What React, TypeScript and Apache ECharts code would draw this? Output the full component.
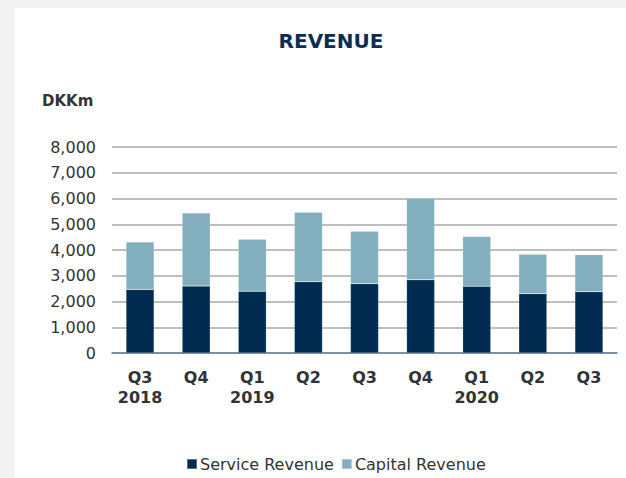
import React, { useEffect, useRef } from "react";
import * as echarts from "echarts";

const categories = ["Q3\n2018", "Q4", "Q1\n2019", "Q2", "Q3", "Q4", "Q1\n2020", "Q2", "Q3"];
const serviceRevenue = [2470, 2600, 2400, 2770, 2690, 2845, 2590, 2305, 2380];
const capitalRevenue = [1840, 2840, 2015, 2695, 2035, 3165, 1930, 1530, 1440];
const yTicks = { min: 0, max: 8000, interval: 1000 };

const FONT = "'DejaVu Sans', 'Open Sans', sans-serif";

export default function App() {
  const ref = useRef<HTMLDivElement>(null);
  useEffect(() => {
    if (!ref.current) return;
    const chart = echarts.init(ref.current, undefined, { renderer: "svg" });
    chart.setOption({
      animation: false,
      backgroundColor: "#ffffff",
      textStyle: { fontFamily: FONT },
      title: {
        text: "REVENUE",
        left: 311,
        top: 18,
        textAlign: "center",
        textStyle: { color: "#0c2d52", fontSize: 20, fontWeight: "bold", fontFamily: FONT },
      },
      graphic: [
        {
          type: "text",
          left: 27,
          top: 85,
          style: { text: "DKKm", fill: "#333333", font: `bold 15px ${FONT}` },
        },
      ],
      legend: {
        data: ["Service Revenue", "Capital Revenue"],
        left: 166,
        top: 443,
        icon: "rect",
        itemWidth: 10,
        itemHeight: 10,
        itemGap: 7,
        textStyle: { color: "#333333", fontSize: 16, fontFamily: FONT, padding: [0, 0, 0, -2] },
      },
      grid: { left: 97, right: 9, top: 139, bottom: 125, containLabel: false },
      xAxis: {
        type: "category",
        data: categories,
        axisTick: { show: false },
        axisLine: { lineStyle: { color: "#6a7f99", width: 1.5 } },
        axisLabel: {
          interval: 0,
          color: "#333333",
          fontSize: 16,
          fontWeight: "bold",
          lineHeight: 20,
          margin: 14,
          fontFamily: FONT,
        },
      },
      yAxis: {
        type: "value",
        min: yTicks.min,
        max: yTicks.max,
        interval: yTicks.interval,
        axisLine: { show: false },
        axisTick: { show: false },
        splitLine: { lineStyle: { color: "#a8a8a8", width: 1.5 } },
        axisLabel: {
          color: "#333333",
          fontSize: 16,
          margin: 16,
          fontFamily: FONT,
          formatter: (v: number) => v.toLocaleString("en-US"),
        },
      },
      series: [
        {
          name: "Service Revenue",
          type: "bar",
          stack: "rev",
          data: serviceRevenue,
          barWidth: "50%",
          itemStyle: { color: "#022b52", borderColor: "rgba(255,255,255,0.35)", borderWidth: 0.5 },
        },
        {
          name: "Capital Revenue",
          type: "bar",
          stack: "rev",
          data: capitalRevenue,
          barWidth: "50%",
          itemStyle: { color: "#82aebe", borderColor: "rgba(255,255,255,0.35)", borderWidth: 0.5 },
        },
      ],
    });
    return () => chart.dispose();
  }, []);

  return (
    <div style={{ position: "fixed", left: 0, top: 0, width: 626, height: 478, background: "#f2f2f2" }}>
      <div style={{ position: "absolute", left: 15, top: 8, width: 611, height: 470 }}>
        <div ref={ref} style={{ width: 611, height: 470 }} />
      </div>
    </div>
  );
}
